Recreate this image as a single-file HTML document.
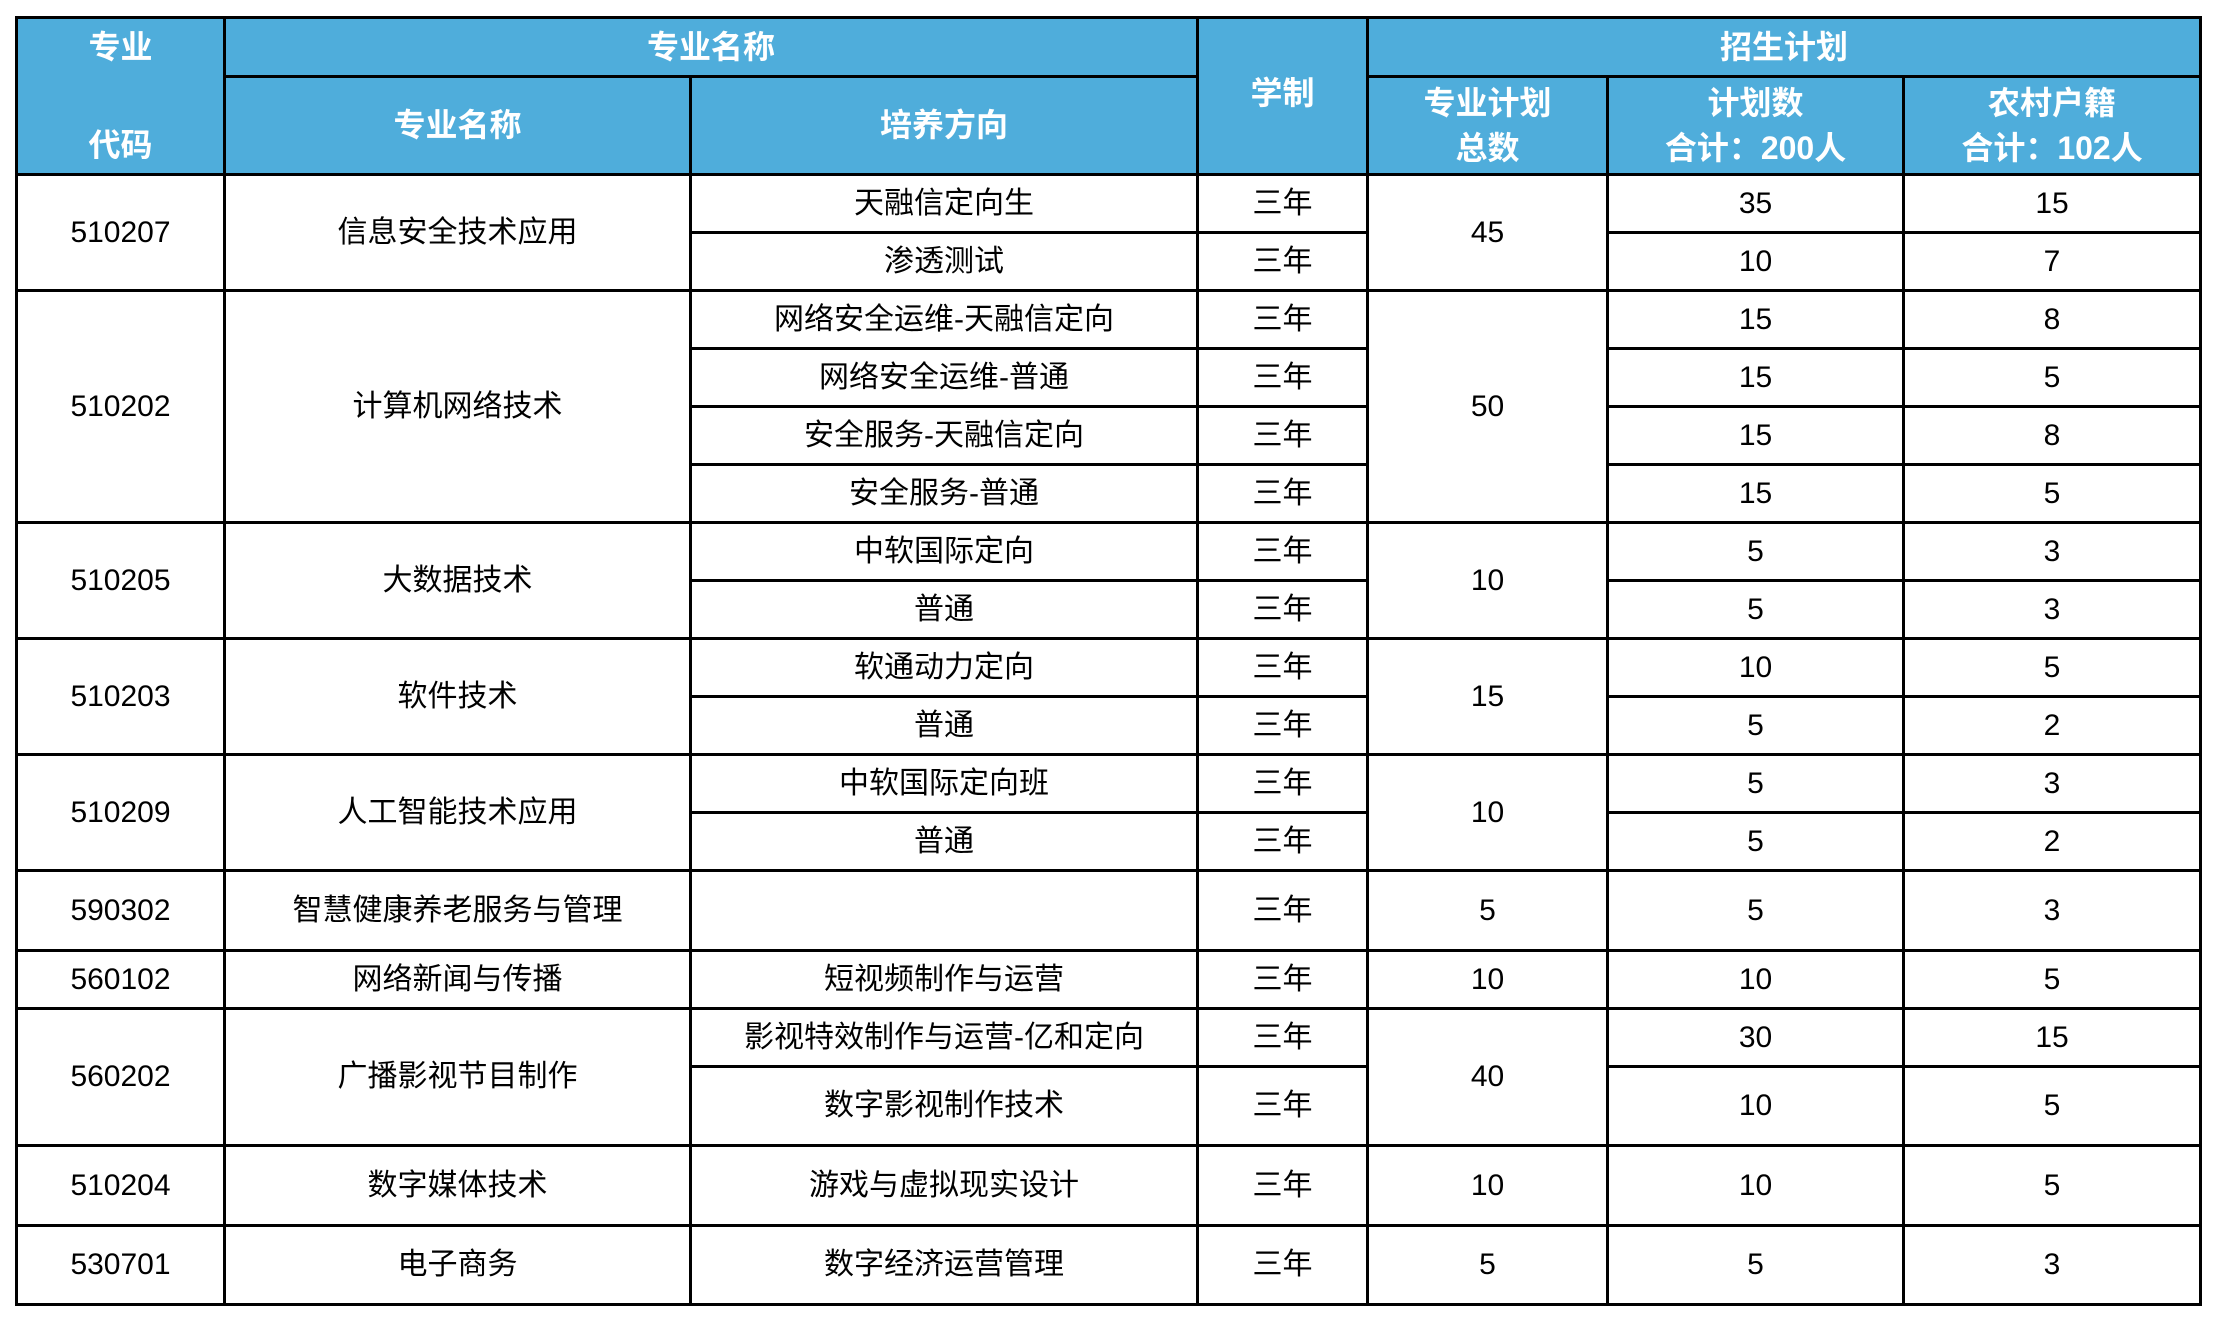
<!DOCTYPE html>
<html><head><meta charset="utf-8"><style>
body{margin:0;background:#fff;width:2214px;height:1322px;overflow:hidden}
table{position:absolute;left:15px;top:16px;border-collapse:collapse;table-layout:fixed;width:2184px;
font-family:"Liberation Sans","Noto Sans CJK SC",sans-serif;font-size:30px;color:#000}
td{border:3px solid #000;text-align:center;vertical-align:middle;padding:0;line-height:1.2}
.h td{background:#4FADDB;color:#fff;font-weight:bold;font-size:32px}
.h td.sp{line-height:1.4}
</style></head><body>
<table>
<colgroup><col style="width:208px"><col style="width:466px"><col style="width:507px"><col style="width:170px"><col style="width:240px"><col style="width:296px"><col style="width:297px"></colgroup>
<tr class="h" style="height:59px"><td rowspan="2"><div style="line-height:1;padding-bottom:4px">专业</div><div style="line-height:1;margin-top:62px">代码</div></td><td colspan="2">专业名称</td><td rowspan="2"><div style="margin-top:-6px">学制</div></td><td colspan="3">招生计划</td></tr>
<tr class="h" style="height:98px"><td>专业名称</td><td>培养方向</td><td class="sp">专业计划<br>总数</td><td class="sp">计划数<br>合计：200人</td><td class="sp">农村户籍<br>合计：102人</td></tr>
<tr style="height:58px"><td rowspan="2">510207</td><td rowspan="2">信息安全技术应用</td><td>天融信定向生</td><td>三年</td><td rowspan="2">45</td><td>35</td><td>15</td></tr>
<tr style="height:58px"><td>渗透测试</td><td>三年</td><td>10</td><td>7</td></tr>
<tr style="height:58px"><td rowspan="4">510202</td><td rowspan="4">计算机网络技术</td><td>网络安全运维-天融信定向</td><td>三年</td><td rowspan="4">50</td><td>15</td><td>8</td></tr>
<tr style="height:58px"><td>网络安全运维-普通</td><td>三年</td><td>15</td><td>5</td></tr>
<tr style="height:58px"><td>安全服务-天融信定向</td><td>三年</td><td>15</td><td>8</td></tr>
<tr style="height:58px"><td>安全服务-普通</td><td>三年</td><td>15</td><td>5</td></tr>
<tr style="height:58px"><td rowspan="2">510205</td><td rowspan="2">大数据技术</td><td>中软国际定向</td><td>三年</td><td rowspan="2">10</td><td>5</td><td>3</td></tr>
<tr style="height:58px"><td>普通</td><td>三年</td><td>5</td><td>3</td></tr>
<tr style="height:58px"><td rowspan="2">510203</td><td rowspan="2">软件技术</td><td>软通动力定向</td><td>三年</td><td rowspan="2">15</td><td>10</td><td>5</td></tr>
<tr style="height:58px"><td>普通</td><td>三年</td><td>5</td><td>2</td></tr>
<tr style="height:58px"><td rowspan="2">510209</td><td rowspan="2">人工智能技术应用</td><td>中软国际定向班</td><td>三年</td><td rowspan="2">10</td><td>5</td><td>3</td></tr>
<tr style="height:58px"><td>普通</td><td>三年</td><td>5</td><td>2</td></tr>
<tr style="height:80px"><td>590302</td><td>智慧健康养老服务与管理</td><td></td><td>三年</td><td>5</td><td>5</td><td>3</td></tr>
<tr style="height:58px"><td>560102</td><td>网络新闻与传播</td><td>短视频制作与运营</td><td>三年</td><td>10</td><td>10</td><td>5</td></tr>
<tr style="height:58px"><td rowspan="2">560202</td><td rowspan="2">广播影视节目制作</td><td>影视特效制作与运营-亿和定向</td><td>三年</td><td rowspan="2">40</td><td>30</td><td>15</td></tr>
<tr style="height:79px"><td>数字影视制作技术</td><td>三年</td><td>10</td><td>5</td></tr>
<tr style="height:80px"><td>510204</td><td>数字媒体技术</td><td>游戏与虚拟现实设计</td><td>三年</td><td>10</td><td>10</td><td>5</td></tr>
<tr style="height:79px"><td>530701</td><td>电子商务</td><td>数字经济运营管理</td><td>三年</td><td>5</td><td>5</td><td>3</td></tr>
</table>
</body></html>
